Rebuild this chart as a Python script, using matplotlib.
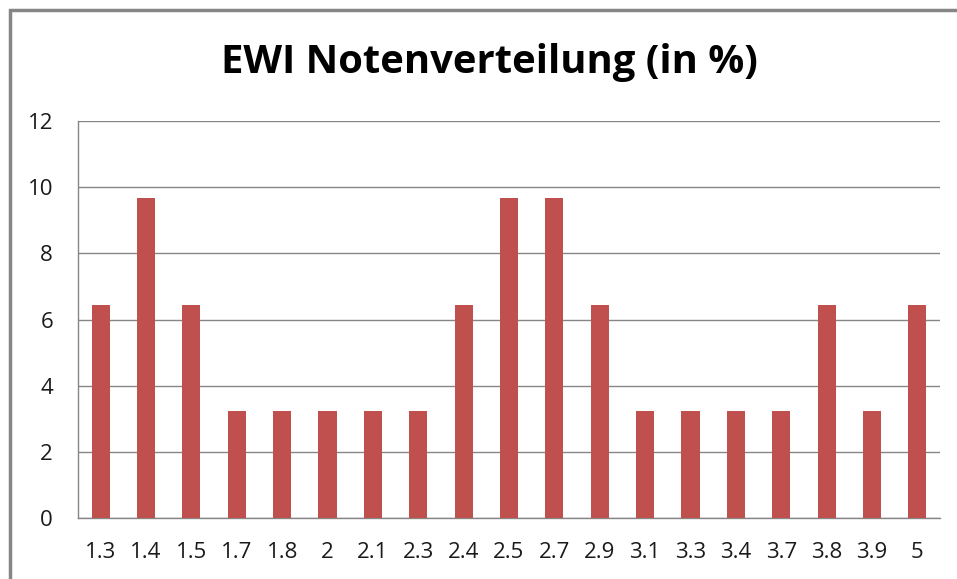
import matplotlib
matplotlib.use("Agg")
import matplotlib.pyplot as plt
from matplotlib.patches import Rectangle

categories = ["1.3", "1.4", "1.5", "1.7", "1.8", "2", "2.1", "2.3", "2.4", "2.5",
              "2.7", "2.9", "3.1", "3.3", "3.4", "3.7", "3.8", "3.9", "5"]
values = [6.45, 9.68, 6.45, 3.23, 3.23, 3.23, 3.23, 3.23, 6.45, 9.68,
          9.68, 6.45, 3.23, 3.23, 3.23, 3.23, 6.45, 3.23, 6.45]
yticks = [0, 2, 4, 6, 8, 10, 12]
title = "EWI Notenverteilung (in %)"

W, H = 957, 579
fig = plt.figure(figsize=(W / 100, H / 100), dpi=100)
plt.rcParams['font.family'] = ['Open Sans', 'DejaVu Sans']

# chart border (runs off the right and bottom edges)
fig.patches.append(Rectangle((9.5 / W, -0.2), 1.2, 1.2 - 9.5 / H, transform=fig.transFigure,
                             fill=False, edgecolor="#868686", linewidth=2.5, clip_on=False))

ax = fig.add_axes([78 / W, 1 - 518 / H, (940 - 78) / W, (518 - 121) / H])
x = list(range(len(categories)))
ax.bar(x, values, width=0.4, color="#C0504D", zorder=3)
ax.set_xlim(-0.5, len(categories) - 0.5)
ax.set_ylim(0, 12)
ax.set_yticks(yticks)
ax.set_yticklabels([str(t) for t in yticks], fontsize=16, color="#1a1a1a")
ax.set_xticks(x)
ax.set_xticklabels(categories, fontsize=16, color="#1a1a1a")
ax.tick_params(axis="x", length=0, pad=17)
ax.tick_params(axis="y", length=0, pad=18)
ax.grid(axis="y", color="#868686", linewidth=1, zorder=0)
for s in ["top", "right"]:
    ax.spines[s].set_visible(False)
for s in ["left", "bottom"]:
    ax.spines[s].set_color("#868686")
    ax.spines[s].set_linewidth(1)

fig.text(489 / W, 1 - 62 / H, title, ha="center", va="center", fontsize=28.8,
         fontweight="bold", color="black")

fig.savefig("out.png", dpi=100)
